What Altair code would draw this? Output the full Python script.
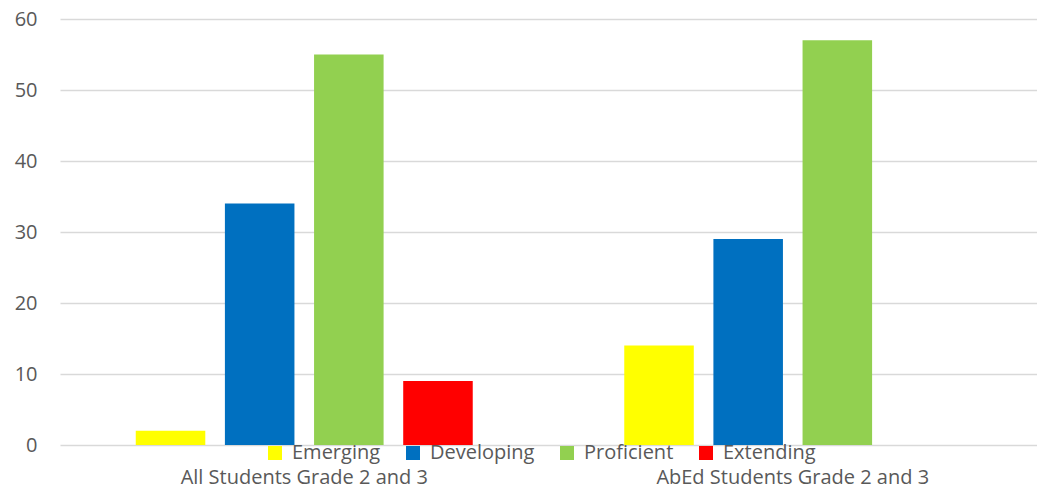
import altair as alt
import pandas as pd

groups = ["All Students Grade 2 and 3", "AbEd Students Grade 2 and 3"]
levels = ["Emerging", "Developing", "Proficient", "Extending"]
colors = ["#FFFF00", "#0070C0", "#92D050", "#FF0000"]
all_students = [2, 34, 55, 9]
abed_students = [14, 29, 57, None]

rows = []
for g, vals in zip(groups, [all_students, abed_students]):
    for lv, v in zip(levels, vals):
        if v is not None:
            rows.append({"group": g, "level": lv, "value": v})
df = pd.DataFrame(rows)

FONT = "Open Sans"
GRAY = "#595959"
FS = 20

chart = alt.Chart(df).mark_bar().encode(
    x=alt.X("group:N", sort=groups, title=None,
            scale=alt.Scale(paddingInner=0.27, paddingOuter=0.135),
            axis=alt.Axis(labelAngle=0, ticks=False, domain=False, labelPadding=22,
                          labelFontSize=FS, labelColor=GRAY, labelFont=FONT, labelLimit=0)),
    xOffset=alt.XOffset("level:N", sort=levels,
                        scale=alt.Scale(domain=levels, paddingInner=0.22, paddingOuter=0.11)),
    y=alt.Y("value:Q", title=None,
            scale=alt.Scale(domain=[0, 60], nice=False),
            axis=alt.Axis(values=[0, 10, 20, 30, 40, 50, 60], ticks=False, domain=False,
                          labelPadding=23, labelFontSize=FS, labelColor=GRAY, labelFont=FONT,
                          gridColor="#d9d9d9", gridWidth=1.5)),
    color=alt.Color("level:N", sort=levels,
                    scale=alt.Scale(domain=levels, range=colors),
                    legend=alt.Legend(title=None, orient="none", legendX=205, legendY=424,
                                      direction="horizontal", columns=4, symbolType="square",
                                      symbolSize=196, symbolStrokeWidth=0, labelFontSize=FS,
                                      labelColor=GRAY, labelFont=FONT, columnPadding=22,
                                      labelOffset=7, labelLimit=0)),
).properties(
    width=977, height=426,
    padding={"left": 60, "top": 19, "right": 0, "bottom": 46},
    autosize=alt.AutoSizeParams(type="none"),
).configure_view(stroke=None)

chart.save("out.html", embed_options={"renderer": "svg", "actions": False})
